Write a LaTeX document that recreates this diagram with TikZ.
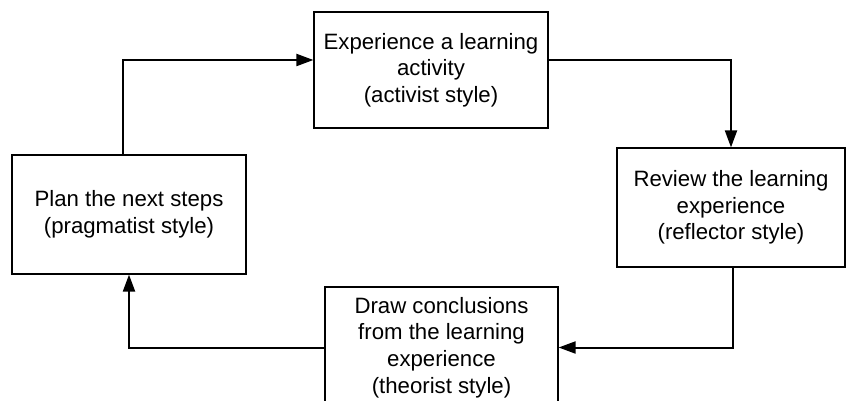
\documentclass[tikz,border=0pt]{standalone}
\usepackage{fontspec}
\setmainfont{Liberation Sans}
\usetikzlibrary{arrows.meta}
\begin{document}
\begin{tikzpicture}[x=1pt,y=-1pt,
  stagebox/.style={draw=black, line width=1.2pt, inner sep=0pt, align=center,
    font=\fontsize{22.2}{26.6}\selectfont},
  flow/.style={draw=black, line width=2pt, -{Triangle[length=17pt,width=12pt]}}]
\useasboundingbox (0,0) rectangle (846,401);
\clip (0,0) rectangle (846,401);
\fill[white] (0,0) rectangle (846,401);
\node[stagebox, minimum width=234pt, minimum height=116pt] (act) at (431,70)
  {Experience a learning\\activity\\(activist style)};
\node[stagebox, minimum width=228pt, minimum height=119pt] (review) at (731,207.5)
  {Review the learning\\experience\\(reflector style)};
\node[stagebox, minimum width=233pt, minimum height=121pt] (concl) at (441.5,347.5)
  {Draw conclusions\\from the learning\\experience\\(theorist style)};
\node[stagebox, minimum width=234pt, minimum height=119pt] (plan) at (129,214.5)
  {Plan the next steps\\(pragmatist style)};
\draw[flow] ([xshift=-6pt]plan.north) |- ([yshift=10pt]act.west);
\draw[flow] ([yshift=10pt]act.east) -| (review.north);
\draw[flow] ([xshift=2pt]review.south) |- (concl.east);
\draw[flow] (concl.west) -| (plan.south);
\end{tikzpicture}
\end{document}
